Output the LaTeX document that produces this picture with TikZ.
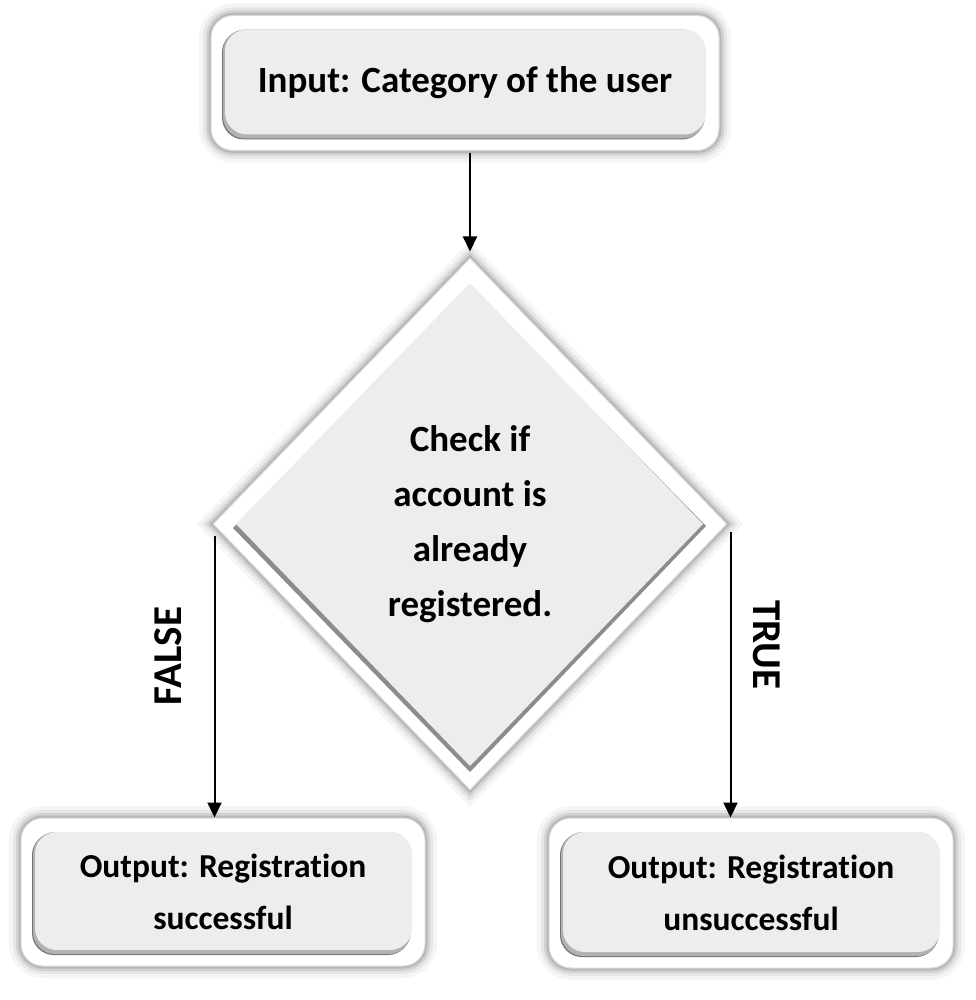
\documentclass[tikz,border=0pt]{standalone}
\usepackage{fontspec}
\setmainfont{Carlito}[Ligatures=NoCommon]
\usetikzlibrary{shapes.geometric,arrows.meta,calc}
\begin{document}
\begin{tikzpicture}[x=1pt,y=-1pt,
  glow/.style={
    preaction={draw=black,opacity=0.04,line width=24},
    preaction={draw=black,opacity=0.06,line width=16},
    preaction={draw=black,opacity=0.09,line width=10},
    preaction={draw=black,opacity=0.12,line width=5}},
  txt/.style={font=\fontsize{37}{53}\selectfont\bfseries, align=center, text=black},
  outerbox/.style={glow, txt, rounded corners=22, fill=white, draw=black!15, line width=1,
    inner sep=0, minimum width=#1, minimum height=135,
    path picture={
      \fill[black!55] ([shift={(11,15)}]path picture bounding box.north west) rectangle ([shift={(-15,-11)}]path picture bounding box.south east);
      \fill[black!30] ([shift={(12,14)}]path picture bounding box.north west) rectangle ([shift={(-14,-12)}]path picture bounding box.south east);
      \fill[black!7] ([shift={(14,14)}]path picture bounding box.north west) rectangle ([shift={(-13,-16)}]path picture bounding box.south east);
    }},
  smalltxt/.style={font=\fontsize{33.5}{52}\selectfont\bfseries},
  decision/.style={glow, txt, shape=diamond, fill=white, draw=black!15, line width=1,
    inner sep=0, minimum width=514, minimum height=532,
    font=\fontsize{37}{55}\selectfont\bfseries,
    path picture={
      \coordinate (pc) at (path picture bounding box.center);
      \fill[black!45] ($(pc)+(0,-239)$) -- ($(pc)+(236,2)$) -- ($(pc)+(0,248)$) -- ($(pc)+(-237,4)$) -- cycle;
      \fill[black!7] ($(pc)+(0,-241)$) -- ($(pc)+(233,0)$) -- ($(pc)+(0,242)$) -- ($(pc)+(-234,0)$) -- cycle;
    }},
  flow/.style={draw=black, line width=2, -{Triangle[width=14,length=15]}},
  lbl/.style={font=\fontsize{41}{44}\selectfont\bfseries, text=black, inner sep=0}
]
\fill[white] (0,0) rectangle (975,1000);
\useasboundingbox (0,0) rectangle (975,1000);

\node[outerbox=508] (in) at (465,83) {Input: Category of the user};
\node[decision] (dia) at (470,524) {Check if\\account is\\already\\registered.};
\node[outerbox=404, minimum height=148, smalltxt] (ok) at (223,892) {Output: Registration\\successful};
\node[outerbox=404, minimum height=150, smalltxt] (ko) at (751,893) {Output: Registration\\unsuccessful};

\draw[flow, shorten <=2, shorten >=6] (in.south -| dia.north) -- (dia.north);
\draw[flow] ([shift={(2,12)}]dia.west) -- ([xshift=2]dia.west |- ok.north);
\draw[flow] ([shift={(3,8)}]dia.east) -- ([xshift=3]dia.east |- ko.north);

\node[lbl, rotate=90] (f) at (168,656) {FALSE};
\node[lbl, rotate=-90] (t) at (767,645) {TRUE};
\end{tikzpicture}
\end{document}
